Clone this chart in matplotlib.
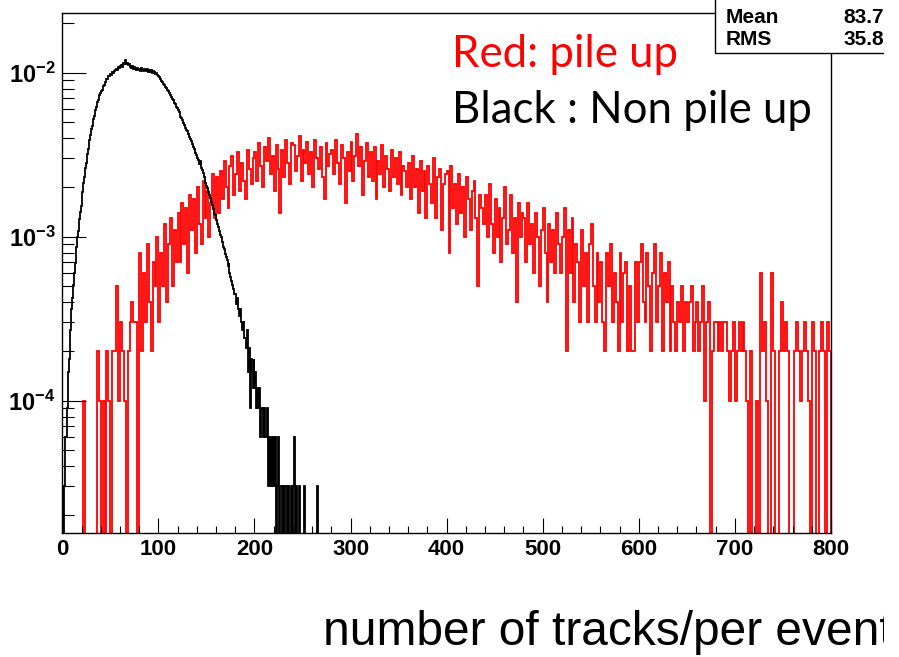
import numpy as np
import matplotlib.pyplot as plt
from matplotlib.patches import Rectangle
from matplotlib.ticker import FixedLocator, LogLocator, MultipleLocator, NullFormatter, FuncFormatter

plt.rcParams['font.family'] = ['Liberation Sans', 'DejaVu Sans']
plt.rcParams['mathtext.fontset'] = 'custom'
plt.rcParams['mathtext.rm'] = 'Liberation Sans:bold'
plt.rcParams['mathtext.bf'] = 'Liberation Sans:bold'

# non pile up, bins of 1 track from 0 (entries per bin)
black_counts = [
    1, 0, 1, 2, 2, 3, 5, 6, 9, 12,
    14, 17, 20, 23, 29, 33, 36, 43, 47, 51,
    57, 62, 71, 77, 87, 94, 106, 114, 129, 139,
    151, 158, 173, 182, 197, 205, 220, 228, 242, 249,
    259, 263, 277, 280, 292, 295, 304, 306, 317, 318,
    326, 322, 335, 331, 341, 346, 352, 348, 361, 356,
    368, 372, 363, 381, 376, 397, 374, 380, 369, 377,
    362, 371, 358, 366, 349, 360, 352, 347, 355, 344,
    351, 343, 356, 345, 339, 352, 347, 341, 350, 338,
    346, 337, 344, 331, 342, 336, 339, 328, 333, 322,
    319, 312, 305, 298, 293, 286, 280, 274, 267, 262,
    257, 250, 243, 237, 231, 226, 219, 214, 207, 202,
    198, 191, 186, 180, 176, 171, 165, 160, 154, 150,
    146, 141, 135, 131, 127, 122, 118, 114, 108, 105,
    101, 98, 93, 96, 88, 85, 82, 77, 75, 71,
    68, 66, 62, 60, 57, 54, 52, 49, 46, 45,
    42, 40, 38, 36, 34, 33, 31, 29, 28, 26,
    25, 24, 22, 23, 20, 19, 18, 17, 16, 15,
    15, 13, 14, 12, 11, 12, 10, 9, 10, 8,
    8, 7, 9, 5, 7, 3, 6, 5, 4, 6,
    4, 5, 3, 4, 3, 4, 2, 3, 3, 2,
    3, 2, 2, 3, 1, 2, 1, 2, 1, 2,
    1, 2, 0, 1, 1, 2, 0, 1, 1, 0,
    1, 0, 1, 1, 0, 1, 0, 0, 1, 0,
    1, 2, 0, 1, 0, 0, 1, 0, 0, 0,
    0, 0, 1, 0, 0, 0, 0, 0, 0, 0,
    0, 0, 0, 0, 0, 1, 0, 0, 0, 0,
]
black_bin = 1
black_unit = 3.0e-5

# pile up, bins of 2 tracks from 0
red_counts = [
    0, 0, 0, 0, 0, 0, 0, 0, 0, 0, 0, 1, 0, 0, 0, 0, 0, 0, 2, 1,
    0, 1, 0, 2, 1, 0, 2, 2, 5, 1, 3, 2, 1, 0, 2, 3, 4, 3, 3, 0,
    8, 2, 6, 3, 9, 4, 2, 7, 5, 10, 3, 8, 5, 12, 4, 9, 13, 5, 11, 7,
    14, 7, 16, 9, 15, 6, 18, 11, 17, 8, 20, 12, 9, 22, 13, 19, 10, 16, 24, 13,
    23, 14, 25, 17, 29, 20, 15, 27, 31, 18, 24, 33, 19, 28, 22, 17, 34, 26, 21, 30,
    33, 22, 37, 27, 20, 35, 29, 40, 24, 31, 19, 36, 26, 14, 34, 23, 39, 28, 21, 37,
    36, 25, 31, 41, 22, 34, 28, 38, 24, 33, 20, 39, 30, 26, 35, 23, 17, 37, 27, 32,
    34, 24, 39, 28, 21, 36, 30, 16, 33, 25, 38, 22, 31, 42, 27, 35, 18, 29, 37, 23,
    33, 22, 35, 17, 29, 24, 36, 20, 31, 26, 19, 34, 23, 30, 21, 33, 18, 27, 25, 20,
    28, 17, 31, 20, 26, 14, 29, 19, 25, 13, 27, 21, 16, 30, 13, 23, 26, 11, 21, 24,
    25, 8, 27, 15, 21, 12, 24, 14, 20, 10, 23, 17, 11, 19, 22, 13, 5, 18, 15, 12,
    18, 10, 21, 12, 8, 17, 10, 15, 7, 13, 20, 9, 11, 18, 8, 13, 4, 16, 10, 14,
    13, 7, 16, 9, 12, 6, 14, 10, 5, 11, 15, 8, 4, 12, 7, 11, 6, 14, 9, 6,
    10, 15, 2, 11, 6, 13, 4, 9, 7, 3, 11, 5, 8, 3, 9, 12, 5, 3, 8, 4,
    7, 3, 2, 8, 5, 9, 3, 6, 4, 2, 8, 3, 6, 7, 2, 5, 2, 2, 7, 3,
    7, 9, 4, 3, 8, 5, 2, 6, 9, 3, 5, 8, 2, 6, 4, 7, 2, 5, 3, 2,
    4, 3, 5, 2, 4, 3, 4, 5, 2, 3, 4, 2, 3, 5, 1, 3, 4, 0, 2, 3,
    3, 2, 3, 2, 3, 3, 2, 1, 2, 3, 1, 2, 3, 2, 3, 2, 1, 0, 2, 0,
    0, 1, 0, 6, 2, 3, 1, 0, 0, 6, 2, 0, 0, 2, 4, 2, 3, 2, 0, 0,
    0, 2, 3, 2, 1, 2, 3, 2, 1, 0, 3, 2, 0, 0, 2, 3, 2, 0, 3, 2,
]
red_bin = 2
red_unit = 1.0e-4

x_ticks = [0, 100, 200, 300, 400, 500, 600, 700, 800]
y_ticks = [1e-4, 1e-3, 1e-2]
stat_names = ['Mean', 'RMS']
stat_values = ['83.7', '35.8']

fig = plt.figure(figsize=(8.99, 6.57), dpi=100)
ax = fig.add_axes([0.0693, 0.1883, 0.855, 0.7915])

floor = 1e-9
red = np.array(red_counts) * red_unit
black = np.array(black_counts) * black_unit
red_edges = np.arange(len(red) + 1) * red_bin
black_edges = np.arange(len(black) + 1) * black_bin
ax.stairs(np.where(red > 0, red, floor), red_edges, color='#ff0000', lw=1.3)
ax.stairs(np.where(black > 0, black, floor), black_edges, color='black', lw=1.3)

ax.set_yscale('log')
ax.set_xlim(0, 800)
ax.set_ylim(1.554e-5, 0.02302)

ax.xaxis.set_major_locator(FixedLocator(x_ticks))
ax.xaxis.set_minor_locator(MultipleLocator(20))
ax.yaxis.set_major_locator(FixedLocator(y_ticks))
ax.yaxis.set_minor_locator(LogLocator(base=10, subs=np.arange(2, 10)))
ax.yaxis.set_minor_formatter(NullFormatter())
ax.yaxis.set_major_formatter(FuncFormatter(lambda v, p: r'$\mathbf{10^{%d}}$' % round(np.log10(v))))
ax.set_xticklabels([str(t) for t in x_ticks], fontweight='bold')

ax.tick_params(axis='x', which='major', direction='in', length=10.8, width=0.8, top=False, labelsize=16, pad=4)
ax.tick_params(axis='x', which='minor', direction='in', length=5, width=0.8, top=False)
ax.tick_params(axis='y', which='major', direction='in', length=17, width=0.8, right=False, labelsize=17, pad=5)
ax.tick_params(axis='y', which='minor', direction='in', length=8.5, width=0.8, right=False)
for s in ax.spines.values():
    s.set_linewidth(1.0)

# stats box, partly outside the picture
fig.patches.append(Rectangle((715 / 899, 1 - 53 / 657), 0.3, 0.2, transform=fig.transFigure,
                             facecolor='white', edgecolor='black', lw=1.0, zorder=5))
for i, (n, v) in enumerate(zip(stat_names, stat_values)):
    y = 1 - (23 + 22 * i) / 657
    fig.text(726 / 899, y, n, fontsize=15, fontweight='bold', va='baseline', zorder=6)
    fig.text(884 / 899, y, v, fontsize=15, fontweight='bold', va='baseline', ha='right', zorder=6)

fig.text(452 / 899, 1 - 67 / 657, 'Red: pile up', color='#ff0000', fontsize=31.5, family='Lato', va='baseline')
fig.text(452 / 899, 1 - 123 / 657, 'Black : Non pile up', color='black', fontsize=31.5, family='Lato', va='baseline')
fig.text(323 / 899, 1 - 645 / 657, 'number of tracks/per event', fontsize=34.5, va='baseline')

# picture is cut off at the right
fig.patches.append(Rectangle((884 / 899, 0), 0.1, 1, transform=fig.transFigure,
                             facecolor='white', edgecolor='none', zorder=10))

fig.savefig('out.png', dpi=100)
